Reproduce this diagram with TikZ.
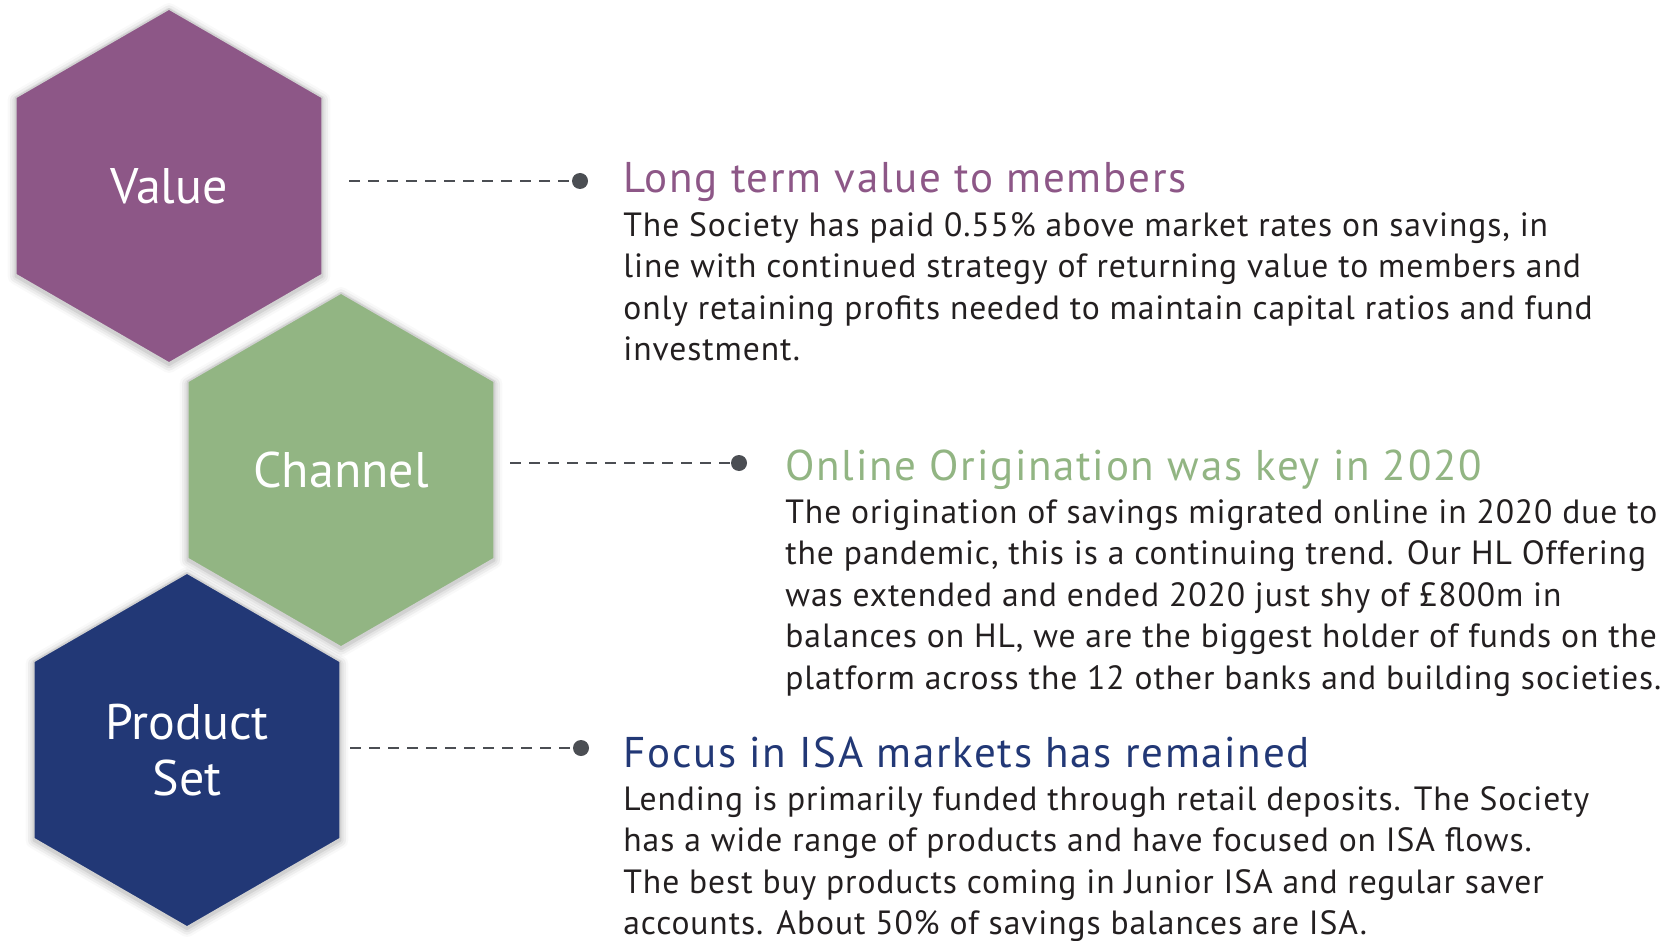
\documentclass[tikz,border=0pt]{standalone}
\usepackage{fontspec}
\setmainfont{PT Sans}
\newfontfamily\headfont[LetterSpace=4]{PT Sans}
\newfontfamily\bodyfont[LetterSpace=2.7]{PT Sans}
\usetikzlibrary{shapes.geometric,shadows.blur}
\definecolor{plum}{HTML}{8D5787}
\definecolor{sage}{HTML}{92B583}
\definecolor{navy}{HTML}{223876}
\definecolor{ink}{HTML}{231F20}
\definecolor{lead}{HTML}{4B4E53}
\newcommand{\lines}[1]{\begin{tabular}[t]{@{}l@{}}#1\end{tabular}}
\tikzset{
  hex/.style={regular polygon, regular polygon sides=6, shape border rotate=30,
    minimum size=177pt, inner sep=0pt, outer sep=0pt, draw=black!18, line width=0.8pt,
    text=white, align=center, font=\fontsize{25}{28}\selectfont,
    blur shadow={shadow xshift=0pt, shadow yshift=-1pt, shadow blur radius=4pt, shadow opacity=35}},
  leader/.style={lead, line width=1.2pt, dash pattern=on 5.5pt off 4pt},
  dot/.style={circle, fill=lead, inner sep=0pt, minimum size=8pt},
  head/.style={anchor=base west, inner sep=0pt, font=\headfont\fontsize{21.5}{24}\selectfont},
  body/.style={anchor=base west, inner sep=0pt, text=ink,
    font=\bodyfont\fontsize{16.8}{20.8}\selectfont}
}
\begin{document}
\begin{tikzpicture}[x=0.5pt, y=-0.5pt]
  \useasboundingbox (0,0) rectangle (1674,941);
  \node[hex, fill=plum] (value) at (169,186) {Value};
  \node[hex, fill=sage] (channel) at (341,470) {Channel};
  \node[hex, fill=navy] (product) at (187,750) {Product\\Set};

  \node[dot] (valdot) at (580,181) {};
  \node[dot] (chandot) at (739,463) {};
  \node[dot] (proddot) at (581,748) {};
  \draw[leader, shorten <=13.5pt] (value.east |- valdot) -- (valdot);
  \draw[leader, shorten <=8pt] (channel.east |- chandot) -- (chandot);
  \draw[leader, shorten <=5pt] (product.east |- proddot) -- (proddot);

  \node[head, text=plum] (valhead) at (623,193) {Long term value to members};
  \node[body] (valtext) at (623,236) {\lines{The Society has paid 0.55\% above market rates on savings, in\\
    line with continued strategy of returning value to members and\\
    only retaining profits needed to maintain capital ratios and fund\\
    investment.}};

  \node[head, text=sage] (chanhead) at (785,480) {Online Origination was key in 2020};
  \node[body] (chantext) at (785,523) {\lines{The origination of savings migrated online in 2020 due to\\
    the pandemic, this is a continuing trend. Our HL Offering\\
    was extended and ended 2020 just shy of £800m in\\
    balances on HL, we are the biggest holder of funds on the\\
    platform across the 12 other banks and building societies.}};

  \node[head, text=navy] (prodhead) at (623,767) {Focus in ISA markets has remained};
  \node[body] (prodtext) at (623,810) {\lines{Lending is primarily funded through retail deposits. The Society\\
    has a wide range of products and have focused on ISA flows.\\
    The best buy products coming in Junior ISA and regular saver\\
    accounts. About 50\% of savings balances are ISA.}};
\end{tikzpicture}
\end{document}
